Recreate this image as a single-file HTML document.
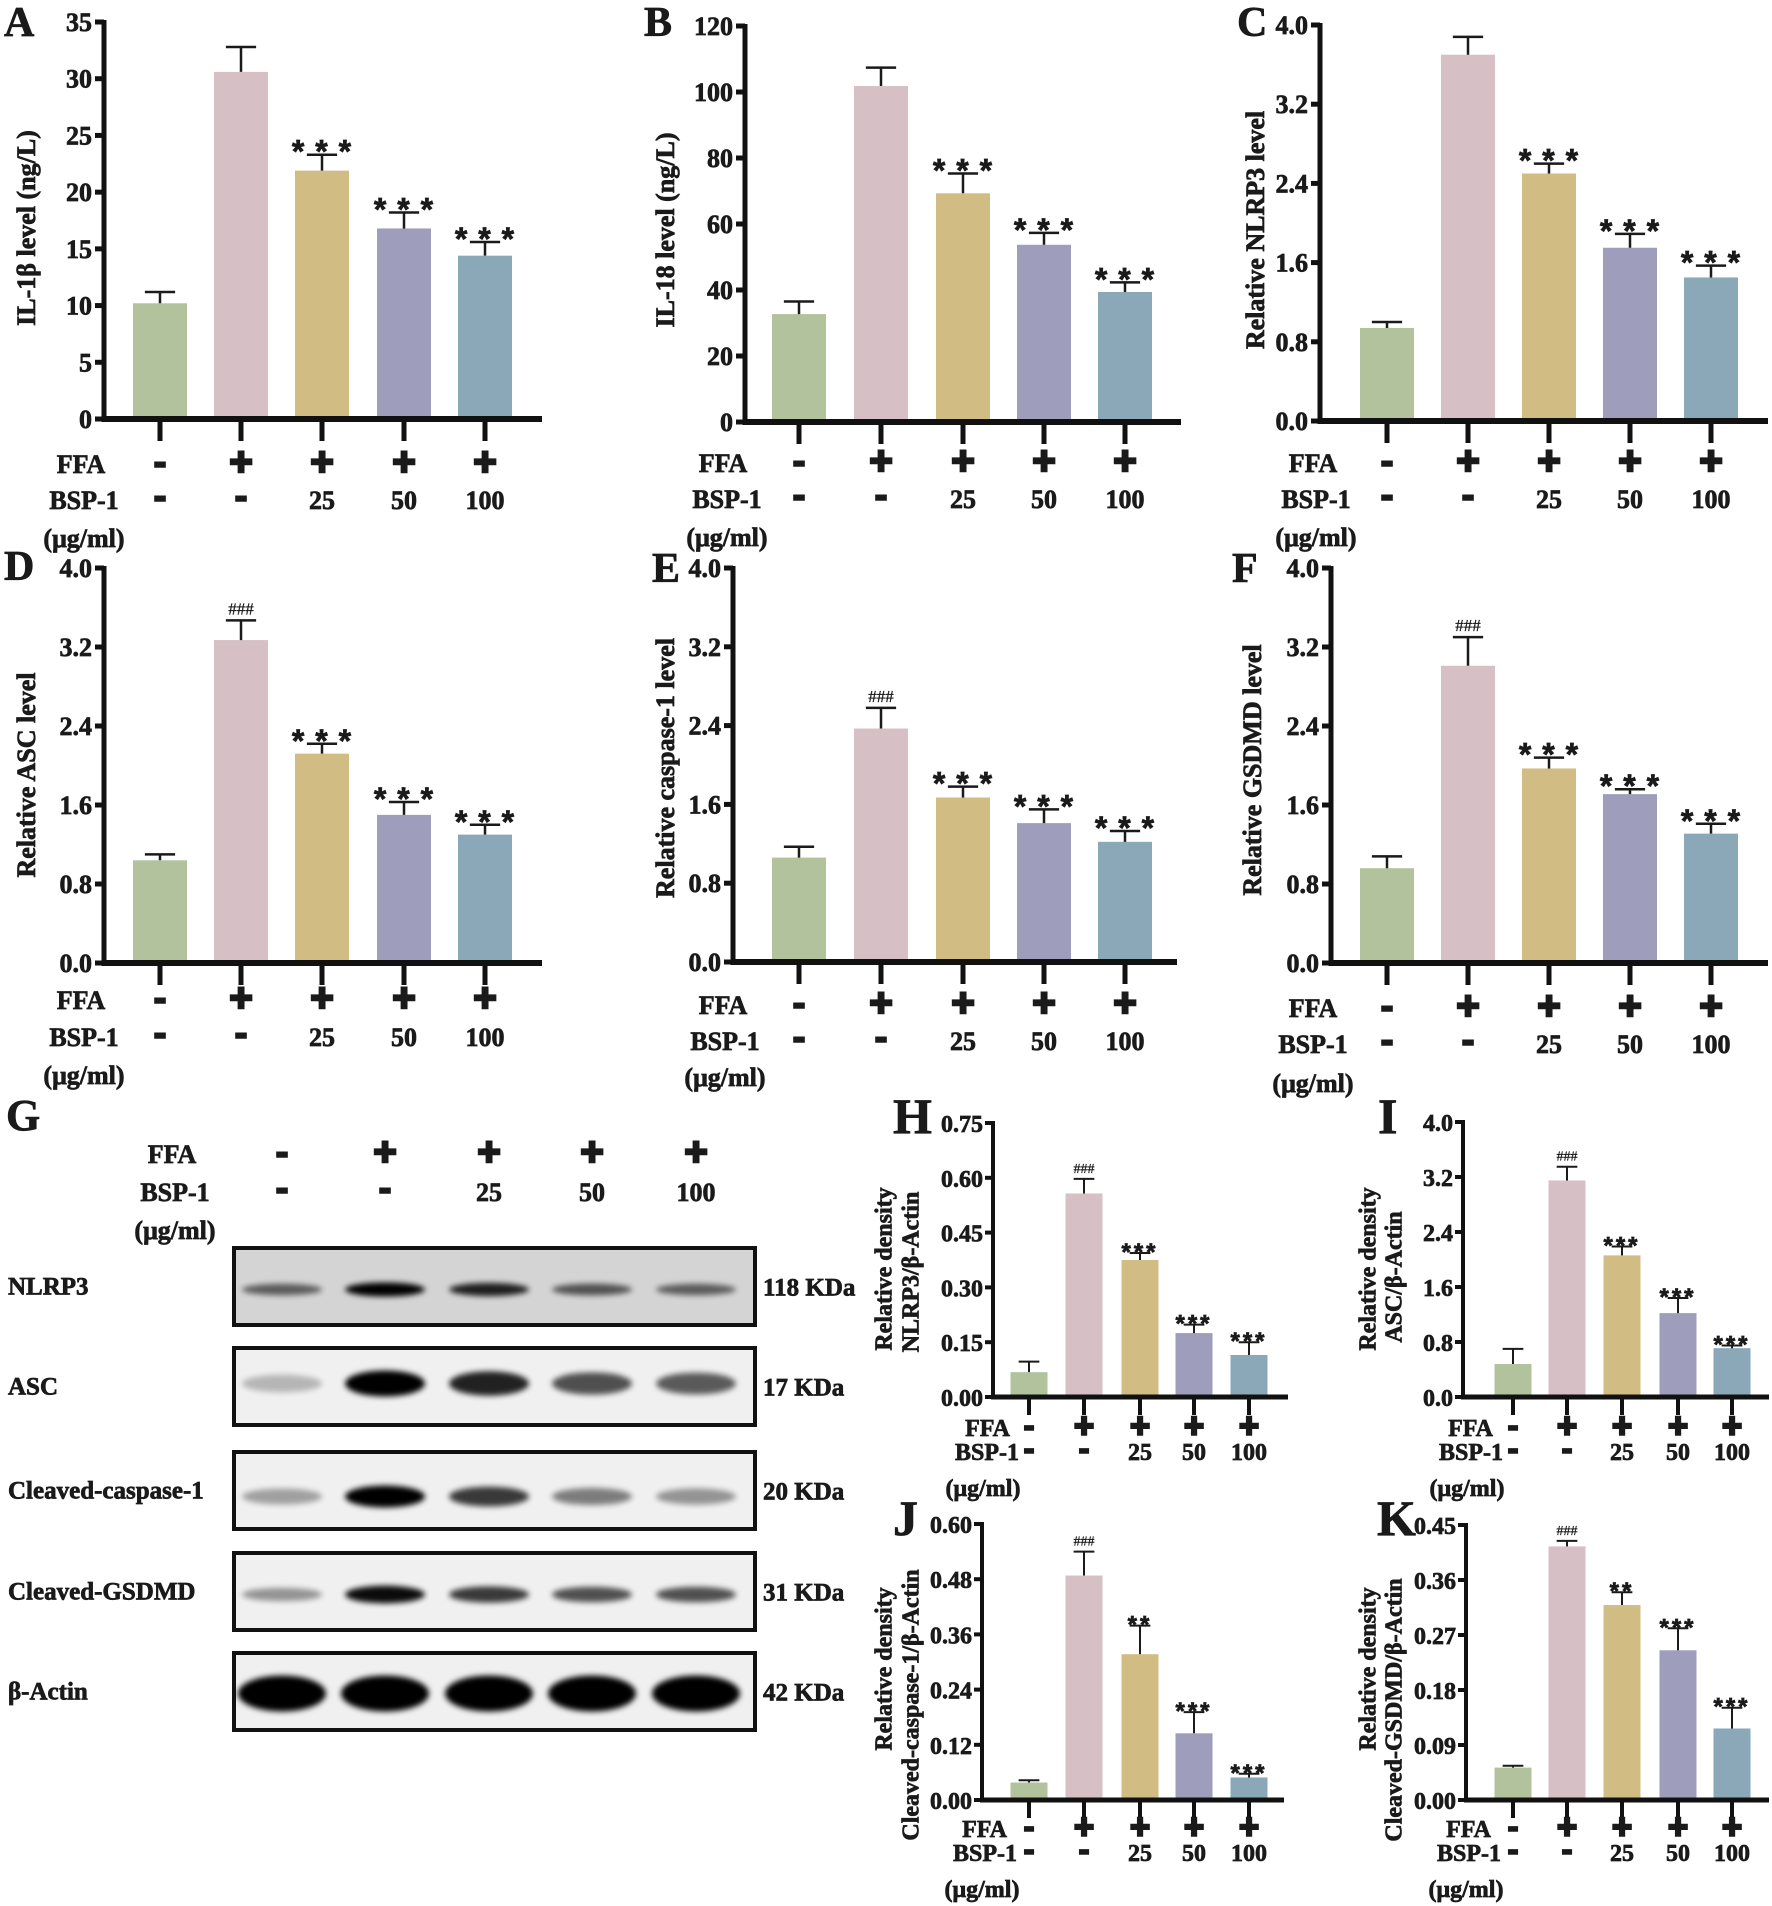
<!DOCTYPE html>
<html><head><meta charset="utf-8">
<style>
html,body{margin:0;padding:0;background:#fff;}
svg{display:block;}
text{font-family:"Liberation Serif",serif;font-weight:bold;fill:#1a1a1a;stroke:#1a1a1a;stroke-width:0.7px;}
</style></head>
<body>
<svg id="fig" xmlns="http://www.w3.org/2000/svg" width="1772" height="1906" viewBox="0 0 1772 1906">
<defs>
<filter id="blur" x="-30%" y="-100%" width="160%" height="300%"><feGaussianBlur stdDeviation="3"/></filter>
</defs>
<rect x="0" y="0" width="1772" height="1906" fill="#fff"/>
</svg>
<script>
// ---------- data ----------
const ffaLabels = ['-','+','+','+','+'];
const bspLabels = ['-','-','25','50','100'];
const barColors = ['#b1c29c','#d6bfc5','#d1bc83','#9f9dbc','#8aa8b8'];

const valsA = [10.2, 30.6, 21.9, 16.8, 14.4];
const errsA = [11.2, 32.8, 23.3, 18.2, 15.6];
const sigA  = ['', '', '* * *', '* * *', '* * *'];
const ticksA = [0,5,10,15,20,25,30,35];
const tickLabelsA = ['0','5','10','15','20','25','30','35'];

const valsB = [32.7, 101.8, 69.3, 53.7, 39.4];
const errsB = [36.5, 107.4, 75.3, 57.3, 42.3];
const sigB  = ['', '', '* * *', '* * *', '* * *'];
const ticksB = [0,20,40,60,80,100,120];
const tickLabelsB = ['0','20','40','60','80','100','120'];

const valsC = [0.94, 3.70, 2.50, 1.75, 1.45];
const errsC = [1.00, 3.88, 2.60, 1.89, 1.57];
const sigC  = ['', '', '* * *', '* * *', '* * *'];
const ticks4 = [0,0.8,1.6,2.4,3.2,4.0];
const tickLabels4 = ['0.0','0.8','1.6','2.4','3.2','4.0'];

const valsD = [1.04, 3.27, 2.12, 1.50, 1.30];
const errsD = [1.10, 3.47, 2.22, 1.63, 1.40];
const sigD  = ['', '###', '* * *', '* * *', '* * *'];

const valsE = [1.06, 2.37, 1.67, 1.41, 1.22];
const errsE = [1.17, 2.58, 1.78, 1.55, 1.33];
const sigE  = ['', '###', '* * *', '* * *', '* * *'];

const valsF = [0.96, 3.01, 1.97, 1.71, 1.31];
const errsF = [1.08, 3.30, 2.08, 1.76, 1.41];
const sigF  = ['', '###', '* * *', '* * *', '* * *'];

const valsH = [0.068, 0.557, 0.375, 0.175, 0.115];
const errsH = [0.097, 0.597, 0.394, 0.198, 0.150];
const sigH  = ['', '###', '***', '***', '***'];
const ticksH = [0,0.15,0.30,0.45,0.60,0.75];
const tickLabelsH = ['0.00','0.15','0.30','0.45','0.60','0.75'];

const valsI = [0.48, 3.15, 2.06, 1.22, 0.71];
const errsI = [0.70, 3.35, 2.19, 1.44, 0.75];
const sigI  = ['', '###', '***', '***', '***'];

const valsJ = [0.038, 0.488, 0.317, 0.145, 0.049];
const errsJ = [0.043, 0.540, 0.379, 0.191, 0.057];
const sigJ  = ['', '###', '**', '***', '***'];
const ticksJ = [0,0.12,0.24,0.36,0.48,0.60];
const tickLabelsJ = ['0.00','0.12','0.24','0.36','0.48','0.60'];

const valsK = [0.053, 0.415, 0.319, 0.245, 0.117];
const errsK = [0.056, 0.424, 0.340, 0.281, 0.151];
const sigK  = ['', '###', '**', '***', '***'];
const ticksK = [0,0.09,0.18,0.27,0.36,0.45];
const tickLabelsK = ['0.00','0.09','0.18','0.27','0.36','0.45'];

const blotProteins = ['NLRP3','ASC','Cleaved-caspase-1','Cleaved-GSDMD','β-Actin'];
const blotKDa = ['118 KDa','17 KDa','20 KDa','31 KDa','42 KDa'];
const bandNLRP3 = [0.55, 1.0, 0.85, 0.6, 0.55];
const bandASC   = [0.2, 1.0, 0.85, 0.65, 0.6];
const bandCasp  = [0.3, 1.0, 0.75, 0.45, 0.35];
const bandGSDMD = [0.35, 0.95, 0.75, 0.65, 0.65];
const bandActin = [1.0, 1.0, 1.0, 1.0, 1.0];

// ---------- helpers ----------
const svg = document.getElementById('fig');
const NS = 'http://www.w3.org/2000/svg';
function mk(tag, attrs, parent){
  const el = document.createElementNS(NS, tag);
  for (const k in attrs) el.setAttribute(k, attrs[k]);
  (parent||svg).appendChild(el);
  return el;
}
function txt(s, attrs, parent){
  const el = mk('text', attrs, parent);
  el.textContent = s;
  return el;
}

function drawPanel(p){
  const g = mk('g', {});
  
  
  const y = v => p.bot - (v / p.max) * (p.bot - p.top);
  const big = !p.small;
  const tfs = big ? 26 : 24;
  const L = txt(p.letter, {x:p.letterX, y:p.letterY, 'font-size': big ? 42 : 50}, g);
  
  
  p.vals.forEach((v,i)=>{
    const cx = p.centers[i];
    const r = mk('rect', {x:cx-p.bw/2, y:y(v), width:p.bw, height:p.bot-y(v), fill:barColors[i]}, g);
    
    
    const e = p.errs[i];
    const ew = big ? 2.5 : 2;
    const cap = p.bw*0.28;
    const el = mk('path', {d:`M${cx} ${y(v)}V${y(e)}M${cx-cap} ${y(e)}H${cx+cap}`, stroke:'#1a1a1a','stroke-width':ew, fill:'none'}, g);
    
    
    const s = p.sig[i];
    if (s){
      let t;
      if (s[0] === '#'){
        t = txt(s, {x:cx, y:y(e)-6, 'text-anchor':'middle', 'font-size': big?17:14, style:'font-weight:normal;stroke-width:0.3px'}, g);
      } else {
        t = txt(s, {x:cx, y:y(e)+(big?8:7), 'text-anchor':'middle', 'font-size': big?32:24,
          style:'font-family:"Liberation Sans",sans-serif;letter-spacing:'+(big?'1px':'3px')}, g);
      }
      
      
    }
  });
  const aw = big ? 5 : 4;
  const ya = mk('line', {x1:p.ax, y1:p.top-2, x2:p.ax, y2:p.bot+aw/2, stroke:'#111','stroke-width':aw}, g);
  
  
  const xa = mk('line', {x1:p.ax-aw/2, y1:p.bot, x2:p.xend, y2:p.bot, stroke:'#111','stroke-width':aw+1}, g);
  
  
  p.ticks.forEach((tv,i)=>{
    const ty = y(tv);
    const tk = mk('line', {x1:p.ax-(big?9:8), y1:ty, x2:p.ax, y2:ty, stroke:'#111','stroke-width':aw}, g);
    
    
    const tl = txt(p.tickLabels[i], {x:p.ax-(big?12:10), y:ty+9, 'text-anchor':'end', 'font-size':tfs}, g);
    
    
  });
  p.centers.forEach((cx,i)=>{
    const tk = mk('line', {x1:cx, y1:p.bot, x2:cx, y2:p.bot+(big?22:18), stroke:'#111','stroke-width':aw}, g);
    
    
    const sym = ffaLabels[i];
    const f = txt(sym, {x:cx, y:p.ffaY+(big?11:10), 'text-anchor':'middle', 'font-size': big?40:34,
      style:'font-family:"Liberation Sans",sans-serif;stroke-width:'+(sym==='+'?'2.5px':'1.5px')}, g);
    
    
    const bl = bspLabels[i];
    const b = txt(bl, {x:cx, y:p.bspY+9, 'text-anchor':'middle', 'font-size': bl==='-' ? (big?40:34) : (big?26:24),
      style: bl==='-' ? 'font-family:"Liberation Sans",sans-serif;stroke-width:1.5px' : ''}, g);
    
    
  });
  const anchor = big ? 'middle' : 'end';
  const f = txt('FFA', {x:p.ffaX, y:p.ffaY+9, 'text-anchor':anchor, 'font-size': big?26:24}, g);
  
  
  const b = txt('BSP-1', {x:p.bspX, y:p.bspY+9, 'text-anchor':anchor, 'font-size': big?26:24}, g);
  
  
  const u = txt('(μg/ml)', {x:p.ugX, y:p.ugY+9, 'text-anchor':'middle', 'font-size': big?26:24}, g);
  
  
  p.title.forEach((line,i)=>{
    const tx = p.titleX[i], tyc = p.titleY[i];
    const t = txt(line, {x:tx, y:tyc, 'text-anchor':'middle', 'font-size':tfs, transform:`rotate(-90 ${tx} ${tyc})`, dy:'0.35em'}, g);
    
    
  });
}

const cTop = [160,241,322,404,485];
const cMid = [799,881,963,1044,1125];
const cRight = [1387,1468,1549,1630,1711];
const cH = [1029,1084,1140,1194,1249];
const cI = [1513,1567,1622,1678,1732];

drawPanel({id:'a', letter:'A', letterX:4, letterY:36, ax:104, top:22, bot:419, xend:542, centers:cTop, bw:54, max:35,
  ticks:ticksA, tickLabels:tickLabelsA, vals:valsA, errs:errsA, sig:sigA,
  ffaY:464, bspY:500, ugY:538, ffaX:81, bspX:84, ugX:84, title:['IL-1β level (ng/L)'], titleX:[26], titleY:[228]});
drawPanel({id:'b', letter:'B', letterX:644, letterY:36, ax:745, top:26, bot:422, xend:1181, centers:cMid, bw:54, max:120,
  ticks:ticksB, tickLabels:tickLabelsB, vals:valsB, errs:errsB, sig:sigB,
  ffaY:463, bspY:499, ugY:537, ffaX:723, bspX:727, ugX:727, title:['IL-18 level (ng/L)'], titleX:[665], titleY:[230]});
drawPanel({id:'c', letter:'C', letterX:1237, letterY:36, ax:1320, top:25, bot:421, xend:1768, centers:cRight, bw:54, max:4,
  ticks:ticks4, tickLabels:tickLabels4, vals:valsC, errs:errsC, sig:sigC,
  ffaY:463, bspY:499, ugY:537, ffaX:1313, bspX:1316, ugX:1316, title:['Relative NLRP3 level'], titleX:[1255], titleY:[230]});
drawPanel({id:'d', letter:'D', letterX:4, letterY:580, ax:104, top:568, bot:963, xend:542, centers:cTop, bw:54, max:4,
  ticks:ticks4, tickLabels:tickLabels4, vals:valsD, errs:errsD, sig:sigD,
  ffaY:1000, bspY:1037, ugY:1075, ffaX:81, bspX:84, ugX:84, title:['Relative ASC level'], titleX:[26], titleY:[775]});
drawPanel({id:'e', letter:'E', letterX:652, letterY:582, ax:733, top:568, bot:962, xend:1177, centers:cMid, bw:54, max:4,
  ticks:ticks4, tickLabels:tickLabels4, vals:valsE, errs:errsE, sig:sigE,
  ffaY:1005, bspY:1041, ugY:1077, ffaX:723, bspX:725, ugX:725, title:['Relative caspase-1 level'], titleX:[665], titleY:[768]});
drawPanel({id:'f', letter:'F', letterX:1232, letterY:582, ax:1331, top:568, bot:963, xend:1768, centers:cRight, bw:54, max:4,
  ticks:ticks4, tickLabels:tickLabels4, vals:valsF, errs:errsF, sig:sigF,
  ffaY:1008, bspY:1044, ugY:1083, ffaX:1313, bspX:1313, ugX:1313, title:['Relative GSDMD level'], titleX:[1252], titleY:[770]});
drawPanel({id:'h', letter:'H', small:true, letterX:893, letterY:1133, ax:993, top:1123, bot:1397, xend:1288, centers:cH, bw:37, max:0.75,
  ticks:ticksH, tickLabels:tickLabelsH, vals:valsH, errs:errsH, sig:sigH,
  ffaY:1427, bspY:1451, ugY:1487, ffaX:1010, bspX:1019, ugX:983, title:['Relative density','NLRP3/β-Actin'], titleX:[883,910], titleY:[1269,1272]});
drawPanel({id:'i', letter:'I', small:true, letterX:1378, letterY:1133, ax:1463, top:1122, bot:1397, xend:1769, centers:cI, bw:37, max:4,
  ticks:ticks4, tickLabels:tickLabels4, vals:valsI, errs:errsI, sig:sigI,
  ffaY:1427, bspY:1451, ugY:1487, ffaX:1493, bspX:1503, ugX:1467, title:['Relative density','ASC/β-Actin'], titleX:[1367,1393], titleY:[1269,1277]});
drawPanel({id:'j', letter:'J', small:true, letterX:893, letterY:1535, ax:982, top:1524, bot:1800, xend:1284, centers:cH, bw:37, max:0.60,
  ticks:ticksJ, tickLabels:tickLabelsJ, vals:valsJ, errs:errsJ, sig:sigJ,
  ffaY:1828, bspY:1852, ugY:1888, ffaX:1007, bspX:1017, ugX:982, title:['Relative density','Cleaved-caspase-1/β-Actin'], titleX:[883,910], titleY:[1669,1705]});
drawPanel({id:'k', letter:'K', small:true, letterX:1377, letterY:1535, ax:1466, top:1525, bot:1800, xend:1769, centers:cI, bw:37, max:0.45,
  ticks:ticksK, tickLabels:tickLabelsK, vals:valsK, errs:errsK, sig:sigK,
  ffaY:1828, bspY:1852, ugY:1888, ffaX:1491, bspX:1501, ugX:1466, title:['Relative density','Cleaved-GSDMD/β-Actin'], titleX:[1367,1393], titleY:[1669,1710]});

// ---------- western blot ----------
const gG = mk('g', {});


const gl = txt('G', {x:6, y:1130, 'font-size':44}, gG);


const lanes = [282,385,489,592,696];
const hf = txt('FFA', {x:172, y:1163, 'text-anchor':'middle', 'font-size':26}, gG);


const hb = txt('BSP-1', {x:175, y:1201, 'text-anchor':'middle', 'font-size':26}, gG);


const hu = txt('(μg/ml)', {x:175, y:1239, 'text-anchor':'middle', 'font-size':26}, gG);


lanes.forEach((lx,i)=>{
  const sym = ffaLabels[i];
  const f = txt(sym, {x:lx, y:1165, 'text-anchor':'middle', 'font-size':40,
    style:'font-family:"Liberation Sans",sans-serif;stroke-width:'+(sym==='+'?'2.5px':'1.5px')}, gG);
  
  
  const bl = bspLabels[i];
  const b = txt(bl, {x:lx, y:1201, 'text-anchor':'middle', 'font-size': bl==='-'?40:26,
    style: bl==='-' ? 'font-family:"Liberation Sans",sans-serif;stroke-width:1.5px' : ''}, gG);
  
  
});
const defs = svg.querySelector('defs');
const blotTops = [1248,1348,1452,1553,1653];
const blotBands = [bandNLRP3, bandASC, bandCasp, bandGSDMD, bandActin];
const bandH = [7, 13, 11, 9, 18];
const bandW = [40, 40, 40, 40, 44];
const bandDy = [3, -3, 6, 3, 2];
blotProteins.forEach((name,r)=>{
  const top = blotTops[r], h = 77;
  const cp = mk('clipPath', {id:'clip'+r}, defs);
  mk('rect', {x:234, y:top, width:521, height:h}, cp);
  const bg = mk('rect', {x:234, y:top, width:521, height:h, fill: r===0 ? '#d4d4d4' : '#f0f0f0'}, gG);
  
  
  const bandG = mk('g', {'clip-path':'url(#clip'+r+')'}, gG);
  const cy = top + h/2 + bandDy[r];
  blotBands[r].forEach((inten,i)=>{
    const e = mk('ellipse', {cx:lanes[i], cy:cy, rx:bandW[r], ry:bandH[r]*(0.6+0.4*inten), fill:'#000', opacity:Math.min(1, 0.05+inten*0.95), filter:'url(#blur)'}, bandG);
    
    
  });
  const fr = mk('rect', {x:234, y:top, width:521, height:h, fill:'none', stroke:'#111', 'stroke-width':4}, gG);
  
  
  const lt = txt(name, {x:8, y:top + h/2 + 8, 'font-size':25}, gG);
  
  
  const kt = txt(blotKDa[r], {x:763, y:top + h/2 + 9, 'font-size':25}, gG);
  
  
});
</script>
</body></html>
